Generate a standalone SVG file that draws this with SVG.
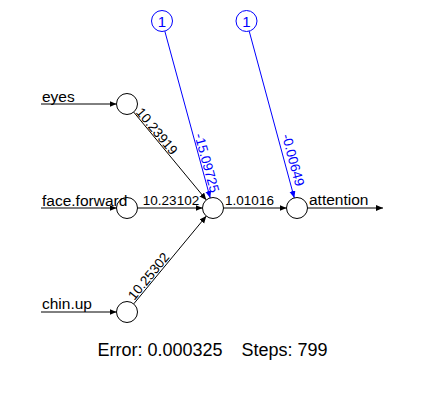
<svg xmlns="http://www.w3.org/2000/svg" width="425" height="416" viewBox="0 0 425 416">
<style>
.ln{stroke:#000;stroke-width:1;fill:none}
.bl{stroke:#0000ff;stroke-width:1;fill:none}
.node{fill:#fff;stroke:#000;stroke-width:1}
.bnode{fill:#fff;stroke:#0000ff;stroke-width:1}
.lab{font-family:"Liberation Sans",Arial,sans-serif;font-size:15.5px;fill:#000}
.w{font-family:"Liberation Sans",Arial,sans-serif;font-size:13.5px;fill:#000}
.wb{font-family:"Liberation Sans",Arial,sans-serif;font-size:13.5px;fill:#0000ff}
.b1{font-family:"Liberation Sans",Arial,sans-serif;font-size:15px;fill:#0000ff}
.ttl{font-family:"Liberation Sans",Arial,sans-serif;font-size:18px;fill:#000}
</style>
<defs>
<marker id="ah" markerUnits="userSpaceOnUse" markerWidth="8" markerHeight="7" refX="7" refY="3" orient="auto">
<path d="M0,0 L7,3 L0,6 z" fill="#000"/>
</marker>
<marker id="ahb" markerUnits="userSpaceOnUse" markerWidth="8" markerHeight="7" refX="7" refY="3" orient="auto">
<path d="M0,0 L7,3 L0,6 z" fill="#0000ff"/>
</marker>
</defs>
<g id="connectors">
<line class="ln" x1="41" y1="104" x2="116.5" y2="104" marker-end="url(#ah)"/>
<line class="ln" x1="41" y1="208" x2="116.5" y2="208" marker-end="url(#ah)"/>
<line class="ln" x1="41" y1="312" x2="116.5" y2="312" marker-end="url(#ah)"/>
<line class="ln" x1="133.7" y1="112.1" x2="206.3" y2="199.9" marker-end="url(#ah)"/>
<line class="ln" x1="137.5" y1="208" x2="202.5" y2="208" marker-end="url(#ah)"/>
<line class="ln" x1="133.7" y1="303.9" x2="206.3" y2="216.1" marker-end="url(#ah)"/>
<line class="ln" x1="223.5" y1="208" x2="286.5" y2="208" marker-end="url(#ah)"/>
<line class="ln" x1="307.5" y1="208" x2="383" y2="208" marker-end="url(#ah)"/>
<line class="bl" x1="164.8" y1="31.1" x2="210.2" y2="197.9" marker-end="url(#ahb)"/>
<line class="bl" x1="249.2" y1="31.1" x2="294.3" y2="197.9" marker-end="url(#ahb)"/>
<text class="w" text-anchor="middle" transform="translate(153.3,134.2) rotate(50.4)">10.23919</text>
<text class="w" text-anchor="middle" x="171" y="205">10.23102</text>
<text class="w" text-anchor="middle" transform="translate(152.2,279.2) rotate(-50.4)">10.25302</text>
<text class="w" text-anchor="middle" x="249.5" y="205">1.01016</text>
<text class="wb" text-anchor="middle" transform="translate(202.4,164.2) rotate(74.7)">-15.09725</text>
<text class="wb" text-anchor="middle" transform="translate(288.7,161.2) rotate(74.9)">-0.00649</text>
</g>
<g id="eyes">
<circle class="node" cx="127" cy="104" r="10.5"/>
<text class="lab" x="42" y="101.5">eyes</text>
</g>
<g id="face.forward">
<circle class="node" cx="127" cy="208" r="10.5"/>
<text class="lab" x="42" y="205.5">face.forward</text>
</g>
<g id="chin.up">
<circle class="node" cx="127" cy="312" r="10.5"/>
<text class="lab" x="42" y="309">chin.up</text>
</g>
<g id="hidden">
<circle class="node" cx="213" cy="208" r="10.5"/>
</g>
<g id="attention">
<circle class="node" cx="297" cy="208" r="10.5"/>
<text class="lab" x="309" y="205">attention</text>
</g>
<g id="bias1">
<circle class="bnode" cx="162" cy="21" r="10.5"/>
<text class="b1" text-anchor="middle" x="162" y="26.5">1</text>
</g>
<g id="bias2">
<circle class="bnode" cx="246.5" cy="21" r="10.5"/>
<text class="b1" text-anchor="middle" x="246.5" y="26.5">1</text>
</g>
<g id="title">
<text class="ttl" text-anchor="end" x="222.5" y="356">Error: 0.000325</text>
<text class="ttl" x="241.5" y="356">Steps: 799</text>
</g>
</svg>
